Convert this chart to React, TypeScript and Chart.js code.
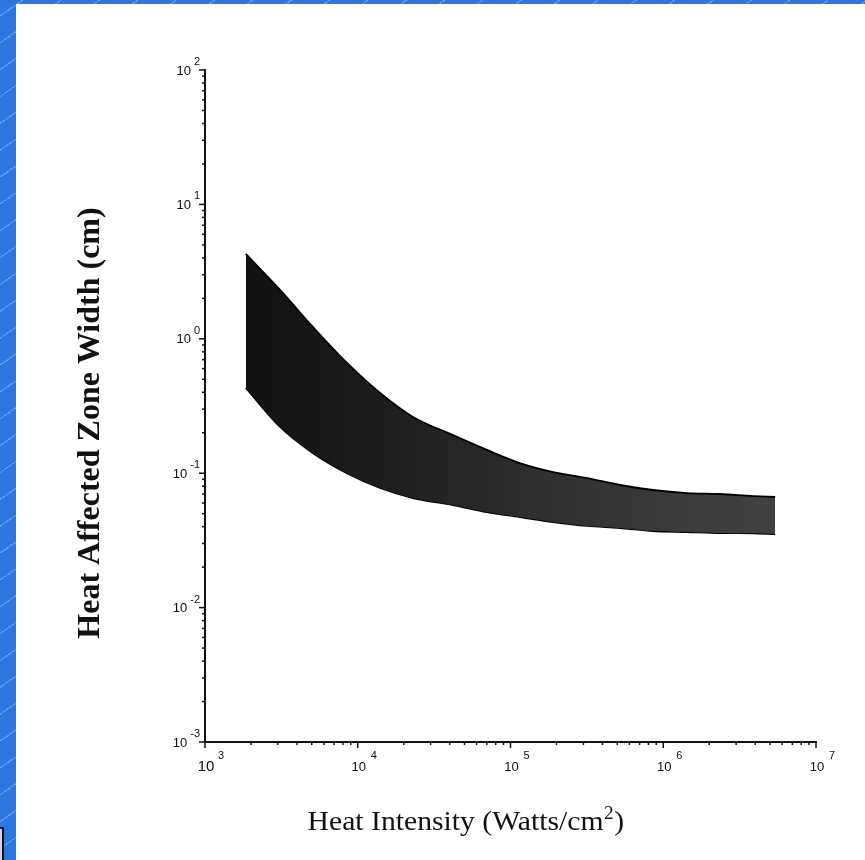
import React, { useEffect, useRef } from 'react';
import { Chart, registerables } from 'chart.js';

Chart.register(...registerables);

// Heat intensity (W/cm^2) sample positions along the band
const bandX = [1850, 3100, 5100, 8500, 14000, 23000, 42000, 70000, 115000, 190000, 317000, 521000, 857000, 1430000, 2350000, 3870000, 5400000];
// Upper bound of heat affected zone width (cm)
const upperWidth = [4.28, 2.31, 1.22, 0.661, 0.395, 0.262, 0.192, 0.149, 0.119, 0.102, 0.092, 0.0817, 0.075, 0.0712, 0.070, 0.0676, 0.0665];
// Lower bound of heat affected zone width (cm)
const lowerWidth = [0.431, 0.221, 0.141, 0.100, 0.0776, 0.0653, 0.058, 0.0514, 0.0472, 0.0433, 0.0405, 0.0391, 0.0371, 0.0365, 0.0359, 0.0357, 0.0353];

const xTickExponents = [3, 4, 5, 6, 7];
const yTickExponents = [-3, -2, -1, 0, 1, 2];

const xTitleMain = 'Heat Intensity (Watts/cm';
const xTitleSup = '2';
const xTitleEnd = ')';
const yTitle = 'Heat Affected Zone Width (cm)';

const decorPlugin = {
  id: 'logDecor',
  afterDraw(chart: any) {
    const { ctx, chartArea: a } = chart;
    const xs = chart.scales.x;
    const ys = chart.scales.y;
    ctx.save();
    ctx.strokeStyle = '#111';
    ctx.lineWidth = 1.5;
    // y ticks
    for (let e = yTickExponents[0]; e <= yTickExponents[yTickExponents.length - 1]; e++) {
      for (let k = 1; k <= 9; k++) {
        const v = k * Math.pow(10, e);
        if (v > ys.max * 1.0001) break;
        const p = ys.getPixelForValue(v);
        const len = k === 1 ? 6 : 3;
        ctx.beginPath();
        ctx.moveTo(a.left - len, p);
        ctx.lineTo(a.left, p);
        ctx.stroke();
      }
    }
    // x ticks
    for (let e = xTickExponents[0]; e <= xTickExponents[xTickExponents.length - 1]; e++) {
      for (let k = 1; k <= 9; k++) {
        const v = k * Math.pow(10, e);
        if (v > xs.max * 1.0001) break;
        const p = xs.getPixelForValue(v);
        const len = k === 1 ? 6 : 3;
        ctx.beginPath();
        ctx.moveTo(p, a.bottom);
        ctx.lineTo(p, a.bottom + len);
        ctx.stroke();
      }
    }
    // y labels
    ctx.fillStyle = '#0d0d0d';
    ctx.textBaseline = 'middle';
    for (const e of yTickExponents) {
      const p = ys.getPixelForValue(Math.pow(10, e));
      const expStr = String(e);
      ctx.font = '11px "Liberation Sans"';
      ctx.textAlign = 'right';
      ctx.fillText(expStr, a.left - 5, p - 8);
      const w = ctx.measureText(expStr).width;
      ctx.font = '13px "Liberation Sans"';
      ctx.fillText('10', a.left - 5 - w - 3, p + 1);
    }
    // x labels
    for (const e of xTickExponents) {
      const p = xs.getPixelForValue(Math.pow(10, e));
      ctx.font = e === xTickExponents[0] ? '15px "Liberation Sans"' : '13px "Liberation Sans"';
      ctx.textAlign = 'center';
      ctx.fillText('10', p + 1, a.bottom + 25);
      ctx.font = '11px "Liberation Sans"';
      ctx.textAlign = 'left';
      ctx.fillText(String(e), p + 13, a.bottom + 14);
    }
    // y title
    ctx.fillStyle = '#111';
    ctx.font = 'bold 32px "Liberation Serif"';
    ctx.textAlign = 'center';
    ctx.textBaseline = 'alphabetic';
    ctx.save();
    ctx.translate(a.left - 106, (a.top + a.bottom) / 2 + 17);
    ctx.rotate(-Math.PI / 2);
    ctx.fillText(yTitle, 0, 0);
    ctx.restore();
    // x title
    ctx.save();
    ctx.translate(a.left + 0.426 * (a.right - a.left), a.bottom + 88);
    ctx.scale(1.06, 1);
    ctx.textAlign = 'left';
    ctx.font = '28px "Liberation Serif"';
    const w1 = ctx.measureText(xTitleMain).width;
    const w3 = ctx.measureText(xTitleEnd).width;
    ctx.font = '18px "Liberation Serif"';
    const w2 = ctx.measureText(xTitleSup).width;
    const start = -(w1 + w2 + w3) / 2;
    ctx.font = '28px "Liberation Serif"';
    ctx.fillText(xTitleMain, start, 0);
    ctx.fillText(xTitleEnd, start + w1 + w2 + 1, 0);
    ctx.font = '18px "Liberation Serif"';
    ctx.fillText(xTitleSup, start + w1 + 0.5, -11);
    ctx.restore();
    ctx.restore();
  },
};

export default function App() {
  const ref = useRef<HTMLCanvasElement | null>(null);
  useEffect(() => {
    document.body.style.margin = '0';
    if (!ref.current) return;
    const chart = new Chart(ref.current, {
      type: 'line',
      data: {
        datasets: [
          {
            label: 'upper',
            data: bandX.map((x, i) => ({ x, y: upperWidth[i] })),
            borderColor: '#000',
            borderWidth: 1.8,
            pointRadius: 0,
            cubicInterpolationMode: 'monotone',
            fill: '+1',
            backgroundColor: (c: any) => {
              const area = c.chart.chartArea;
              if (!area) return '#1e1e1e';
              const g = c.chart.ctx.createLinearGradient(area.left, 0, area.right, 0);
              g.addColorStop(0, '#0e0e0e');
              g.addColorStop(0.25, '#1a1a1a');
              g.addColorStop(0.6, '#333333');
              g.addColorStop(1, '#444444');
              return g;
            },
          },
          {
            label: 'lower',
            data: bandX.map((x, i) => ({ x, y: lowerWidth[i] })),
            borderColor: '#000',
            borderWidth: 1.8,
            pointRadius: 0,
            cubicInterpolationMode: 'monotone',
            fill: false,
          },
        ],
      },
      options: {
        animation: false,
        responsive: false,
        layout: { padding: { left: 0, top: 70, right: 49, bottom: 0 } },
        plugins: { legend: { display: false }, tooltip: { enabled: false } },
        scales: {
          x: {
            type: 'logarithmic',
            min: 1e3,
            max: 1e7,
            ticks: { display: false },
            grid: { display: true, drawOnChartArea: false, drawTicks: false },
            border: { display: true, color: '#111', width: 2 },
            afterFit: (s: any) => { s.height = 118; },
          },
          y: {
            type: 'logarithmic',
            min: 1e-3,
            max: 1e2,
            ticks: { display: false },
            grid: { display: true, drawOnChartArea: false, drawTicks: false },
            border: { display: true, color: '#111', width: 2 },
            afterFit: (s: any) => { s.width = 205; },
          },
        },
      },
      plugins: [decorPlugin],
    } as any);
    return () => chart.destroy();
  }, []);

  return (
    <div
      style={{
        position: 'fixed',
        left: 0,
        top: 0,
        width: 865,
        height: 860,
        overflow: 'hidden',
        background: '#2e77de',
        backgroundImage:
          'repeating-linear-gradient(-35deg, rgba(255,255,255,0) 0px, rgba(255,255,255,0) 21px, rgba(255,255,255,0.3) 21px, rgba(255,255,255,0.3) 22px)',
      }}
    >
      <div style={{ position: 'absolute', left: 16, top: 4, right: 0, bottom: 0, background: '#fff' }} />
      <div
        style={{
          position: 'absolute',
          left: -2,
          top: 827,
          width: 6,
          height: 40,
          background: '#d4d2f2',
          border: '2px solid #111',
          boxSizing: 'border-box',
        }}
      />
      <canvas ref={ref} width={865} height={860} style={{ position: 'absolute', left: 0, top: 0 }} />
    </div>
  );
}
